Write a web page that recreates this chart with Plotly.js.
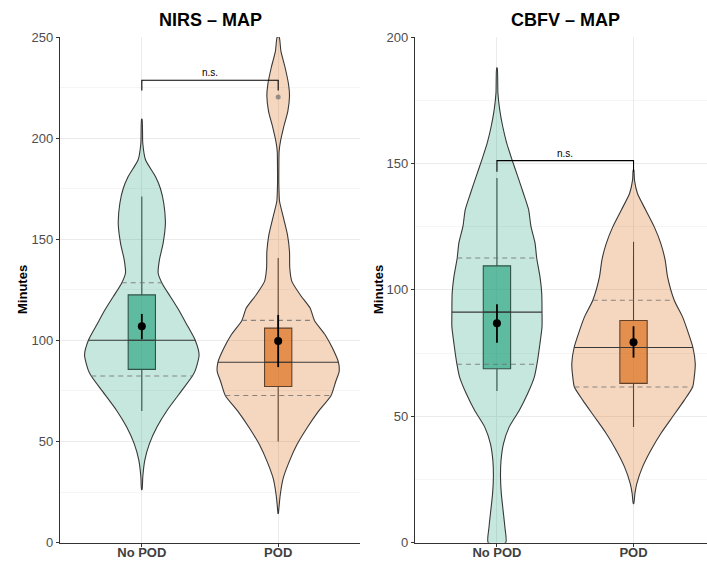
<!DOCTYPE html>
<html>
<head>
<meta charset="utf-8">
<script src="https://cdn.plot.ly/plotly-3.0.1.min.js"></script>
<style>html,body{margin:0;padding:0;background:#fff;}#chart{width:707px;height:561px;}</style>
</head>
<body>
<div id="chart"></div>
<script>
// ---------- data ----------
const groups = ['No POD', 'POD'];

// NIRS - MAP : violin outline (value, half-width in category units)
const nirsNoY = [26.3, 32.5, 40.8, 49, 57.3, 65.5, 75.4, 82.4, 85.3, 92.8, 100.2, 108.4, 115, 121.6, 128.2, 133.2, 139.8, 148, 157.9, 167.8, 175, 181, 189.3, 197.5, 209.4];
const nirsNoW = [0.002, 0.007, 0.022, 0.056, 0.112, 0.186, 0.295, 0.371, 0.393, 0.420, 0.391, 0.325, 0.271, 0.210, 0.149, 0.120, 0.129, 0.156, 0.173, 0.161, 0.137, 0.100, 0.027, 0.007, 0.002];
const nirsPodY = [14.5, 15.4, 23.6, 31.9, 40.1, 48.4, 56.6, 64.9, 72.8, 79.7, 84.6, 89.2, 96.2, 102.8, 109.9, 116, 122.6, 129.2, 135.8, 144, 152.3, 160.6, 168.8, 177, 185.3, 193.6, 198.5, 205.1, 213.4, 220.8, 226.6, 234.8, 243, 250];
const nirsPodW = [0.002, 0.003, 0.015, 0.037, 0.081, 0.137, 0.210, 0.295, 0.388, 0.422, 0.447, 0.442, 0.398, 0.344, 0.266, 0.234, 0.161, 0.100, 0.085, 0.083, 0.068, 0.039, 0.010, 0.005, 0.005, 0.007, 0.017, 0.039, 0.071, 0.083, 0.076, 0.051, 0.020, 0.007];
const nirsViolinQ25 = [82.4, 72.8];
const nirsViolinQ75 = [128.5, 109.9];
// NIRS box statistics
const nirsLowerFence = [65.1, 50.0];
const nirsQ1 = [85.7, 77.2];
const nirsMedian = [100.1, 89.2];
const nirsQ3 = [122.5, 106.1];
const nirsUpperFence = [171.1, 140.8];
const nirsOutlierGroup = [2];
const nirsOutlierValue = [220.3];
// NIRS mean and error bar
const nirsMean = [107.0, 99.7];
const nirsErrLow = [100.6, 86.8];
const nirsErrHigh = [113.1, 112.6];
const nirsBracket = [228.6, 223.5];

// CBFV - MAP
const cbfvNoY = [0, 6.2, 12.8, 19.4, 26, 32.6, 39.2, 45.8, 52.4, 59, 65.6, 70.6, 78.8, 85.4, 91.2, 98.6, 105.2, 112.6, 118.5, 125.1, 131.7, 138.3, 144.9, 151.5, 158.1, 164.7, 171.3, 177.9, 187.8];
const cbfvNoW = [0.064, 0.058, 0.045, 0.032, 0.026, 0.030, 0.048, 0.090, 0.164, 0.225, 0.274, 0.293, 0.315, 0.330, 0.330, 0.328, 0.315, 0.291, 0.279, 0.249, 0.232, 0.193, 0.152, 0.110, 0.071, 0.042, 0.020, 0.007, 0.002];
const cbfvPodY = [15.5, 19.4, 23.4, 30, 36.6, 43.2, 49.8, 56.4, 61.6, 65.6, 70.9, 77.2, 82.7, 89.3, 95.9, 105.2, 111.7, 118.3, 124.9, 131.5, 138.1, 143.4, 147.4];
const cbfvPodW = [0.002, 0.010, 0.024, 0.066, 0.127, 0.200, 0.286, 0.372, 0.433, 0.445, 0.452, 0.435, 0.403, 0.359, 0.298, 0.249, 0.232, 0.200, 0.152, 0.090, 0.029, 0.007, 0.002];
const cbfvViolinQ25 = [70.6, 61.6];
const cbfvViolinQ75 = [112.6, 95.9];
const cbfvLowerFence = [60.0, 45.8];
const cbfvQ1 = [68.8, 63.0];
const cbfvMedian = [91.2, 77.2];
const cbfvQ3 = [109.5, 87.9];
const cbfvUpperFence = [144.2, 119.0];
const cbfvMean = [86.8, 79.3];
const cbfvErrLow = [79.1, 73.2];
const cbfvErrHigh = [94.3, 85.6];
const cbfvBracket = [151.1, 146.7];

const sigLabel = 'n.s.';
const violinFills = ['rgba(27,158,119,0.25)', 'rgba(217,95,2,0.25)'];
const boxFills = ['rgba(27,158,119,0.6)', 'rgba(217,95,2,0.6)'];

// ---------- helpers ----------
const outline = '#383838';
function interpW(ys, ws, q) {
  for (let i = 0; i < ys.length - 1; i++) {
    if (q >= ys[i] && q <= ys[i + 1]) {
      const t = (q - ys[i]) / (ys[i + 1] - ys[i]);
      return ws[i] + t * (ws[i + 1] - ws[i]);
    }
  }
  return 0;
}
function violin(pos, ys, ws, fill, xa, ya) {
  const x = [], y = [];
  for (let i = 0; i < ys.length; i++) { x.push(pos - ws[i]); y.push(ys[i]); }
  for (let i = ys.length - 1; i >= 0; i--) { x.push(pos + ws[i]); y.push(ys[i]); }
  x.push(x[0]); y.push(y[0]);
  return {type: 'scatter', mode: 'lines', x: x, y: y, fill: 'toself', fillcolor: fill,
    line: {color: outline, width: 1.1, shape: 'spline', smoothing: 0.6},
    xaxis: xa, yaxis: ya, hoverinfo: 'skip', showlegend: false};
}
function hline(pos, ys, ws, q, dash, color, xa, ya) {
  const w = interpW(ys, ws, q);
  return {type: 'scatter', mode: 'lines', x: [pos - w, pos + w], y: [q, q],
    line: {color: color, width: 1.1, dash: dash}, xaxis: xa, yaxis: ya, hoverinfo: 'skip', showlegend: false};
}
function box(i, lf, q1, med, q3, uf, xa, ya) {
  return {type: 'box', x: [i + 1], lowerfence: [lf[i]], q1: [q1[i]], median: [med[i]], q3: [q3[i]], upperfence: [uf[i]],
    width: 0.2, fillcolor: boxFills[i], line: {color: outline, width: 1.1}, whiskerwidth: 0,
    boxpoints: false, xaxis: xa, yaxis: ya, hoverinfo: 'skip', showlegend: false};
}
function meanTrace(mean, lo, hi, xa, ya) {
  return {type: 'scatter', mode: 'markers', x: [1, 2], y: mean,
    marker: {color: '#000', size: 8},
    error_y: {type: 'data', symmetric: false, array: hi.map((h, k) => h - mean[k]), arrayminus: lo.map((l, k) => mean[k] - l), thickness: 1.8, width: 0, color: '#000'},
    xaxis: xa, yaxis: ya, hoverinfo: 'skip', showlegend: false};
}
function bracket(b, xa, ya) {
  return {type: 'scatter', mode: 'lines', x: [1, 1, 2, 2], y: [b[1], b[0], b[0], b[1]],
    line: {color: '#000', width: 1.1}, xaxis: xa, yaxis: ya, hoverinfo: 'skip', showlegend: false};
}

const traces = [];
function panel(xa, ya, vY, vW, vq25, vq75, lf, q1, med, q3, uf, mean, lo, hi, br) {
  for (let i = 0; i < 2; i++) traces.push(violin(i + 1, vY[i], vW[i], violinFills[i], xa, ya));
  for (let i = 0; i < 2; i++) traces.push(box(i, lf, q1, med, q3, uf, xa, ya));
  for (let i = 0; i < 2; i++) {
    traces.push(hline(i + 1, vY[i], vW[i], vq25[i], '5px,4px', 'rgba(110,110,110,0.8)', xa, ya));
    traces.push(hline(i + 1, vY[i], vW[i], vq75[i], '5px,4px', 'rgba(110,110,110,0.8)', xa, ya));
    traces.push(hline(i + 1, vY[i], vW[i], med[i], 'solid', outline, xa, ya));
  }
  traces.push(meanTrace(mean, lo, hi, xa, ya));
  traces.push(bracket(br, xa, ya));
}
panel('x', 'y', [nirsNoY, nirsPodY], [nirsNoW, nirsPodW], nirsViolinQ25, nirsViolinQ75,
  nirsLowerFence, nirsQ1, nirsMedian, nirsQ3, nirsUpperFence, nirsMean, nirsErrLow, nirsErrHigh, nirsBracket);
traces.push({type: 'scatter', mode: 'markers', x: nirsOutlierGroup, y: nirsOutlierValue,
  marker: {color: 'rgba(110,110,110,0.7)', size: 5}, xaxis: 'x', yaxis: 'y', hoverinfo: 'skip', showlegend: false});
panel('x2', 'y2', [cbfvNoY, cbfvPodY], [cbfvNoW, cbfvPodW], cbfvViolinQ25, cbfvViolinQ75,
  cbfvLowerFence, cbfvQ1, cbfvMedian, cbfvQ3, cbfvUpperFence, cbfvMean, cbfvErrLow, cbfvErrHigh, cbfvBracket);

// ---------- layout ----------
const W = 707, H = 561;
const font = 'Liberation Sans, Arial, sans-serif';
const yDom = [1 - 542.7 / H, 1 - 37 / H];
function xAxis(dom, range) {
  return {domain: dom, range: range, type: 'linear', tickvals: [1, 2], ticktext: groups,
    showgrid: true, gridcolor: '#ebebeb', gridwidth: 1, zeroline: false,
    showline: true, linecolor: '#333', linewidth: 1.2, ticks: 'outside', ticklen: 3, tickcolor: '#333',
    ticklabelstandoff: -6,
    tickfont: {family: font, size: 13, color: '#404040', weight: 'bold'}, automargin: false, fixedrange: true};
}
function yAxis(anchor, range, vals) {
  return {domain: yDom, anchor: anchor, range: range, tickvals: vals,
    showgrid: true, gridcolor: '#ebebeb', gridwidth: 1, zeroline: false,
    minor: {dtick: 25, tick0: 0, showgrid: true, gridcolor: '#f5f5f5', gridwidth: 1},
    showline: true, linecolor: '#333', linewidth: 1.2, ticks: 'outside', ticklen: 3, tickcolor: '#333',
    tickfont: {family: font, size: 13, color: '#4d4d4d'}, automargin: false, fixedrange: true};
}
const layout = {
  width: W, height: H, margin: {l: 0, r: 0, t: 0, b: 0},
  paper_bgcolor: '#fff', plot_bgcolor: 'rgba(0,0,0,0)', showlegend: false,
  xaxis: Object.assign(xAxis([60 / W, 360 / W], [0.4, 2.6]), {anchor: 'y'}),
  yaxis: yAxis('x', [0, 250], [0, 50, 100, 150, 200, 250]),
  xaxis2: Object.assign(xAxis([415 / W, 1], [0.4, 2.538]), {anchor: 'y2'}),
  yaxis2: yAxis('x2', [0, 200], [0, 50, 100, 150, 200]),
  annotations: [
    {text: 'NIRS – MAP', xref: 'paper', yref: 'paper', x: 210 / W, y: 1 - 20 / H, showarrow: false,
      xanchor: 'center', yanchor: 'middle', font: {family: font, size: 18, color: '#000', weight: 'bold'}},
    {text: 'CBFV – MAP', xref: 'paper', yref: 'paper', x: 565 / W, y: 1 - 20 / H, showarrow: false,
      xanchor: 'center', yanchor: 'middle', font: {family: font, size: 18, color: '#000', weight: 'bold'}},
    {text: 'Minutes', xref: 'paper', yref: 'paper', x: 22 / W, y: 1 - 290 / H, showarrow: false, textangle: -90,
      xanchor: 'center', yanchor: 'middle', font: {family: font, size: 13, color: '#000', weight: 'bold'}},
    {text: 'Minutes', xref: 'paper', yref: 'paper', x: 378 / W, y: 1 - 290 / H, showarrow: false, textangle: -90,
      xanchor: 'center', yanchor: 'middle', font: {family: font, size: 13, color: '#000', weight: 'bold'}},
    {text: sigLabel, xref: 'x', yref: 'y', x: 1.5, y: nirsBracket[0], showarrow: false, yanchor: 'bottom', yshift: 0,
      font: {family: font, size: 10, color: '#000'}},
    {text: sigLabel, xref: 'x2', yref: 'y2', x: 1.5, y: cbfvBracket[0], showarrow: false, yanchor: 'bottom', yshift: 0,
      font: {family: font, size: 10, color: '#000'}}
  ]
};
Plotly.newPlot('chart', traces, layout, {displayModeBar: false, staticPlot: true});
</script>
</body>
</html>
